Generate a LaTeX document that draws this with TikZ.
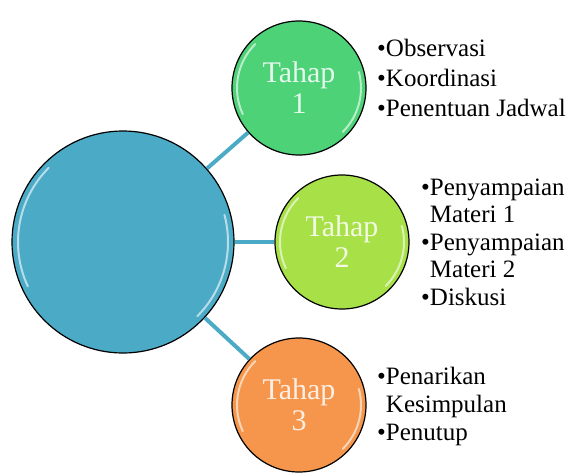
\documentclass[tikz,border=0pt]{standalone}
\usepackage{fontspec}
\setmainfont{Liberation Serif}
\usepackage{tikz}

\definecolor{HubBlue}{RGB}{75,170,198}
\definecolor{StageGreen}{RGB}{78,210,120}
\definecolor{StageLime}{RGB}{168,224,72}
\definecolor{StageOrange}{RGB}{245,150,76}

\begin{document}
\begin{tikzpicture}[x=1pt,y=1pt]
    \tikzset{Shine/.style = {%
        path picture={%
          \draw[white,opacity=.6,line width=2pt,line cap=round]
            (path picture bounding box.center) ++(135:#1) arc[start angle=135,end angle=205,radius=#1];
          \draw[white,opacity=.6,line width=2pt,line cap=round]
            (path picture bounding box.center) ++(-45:#1) arc[start angle=-45,end angle=15,radius=#1];}}}
    \tikzset{HubStyle/.style = {%
        shape= circle,
        fill= HubBlue,
        minimum size = 222pt,
        Shine=105pt,
        line width = 1.2pt,draw}}
    \tikzset{StageStyle/.style = {%
        shape= circle,
        fill= #1,
        text= white!85!#1,
        minimum size = 134pt,
        align= center,
        Shine=62pt,
        font= \fontsize{30}{31}\selectfont,
        line width = 1.2pt,draw}}
    \tikzset{ListStyle/.style = {%
        anchor= west,
        align= left,
        inner sep= 0pt,
        font= \fontsize{25}{#1}\selectfont}}
    \tikzset{LinkStyle/.style = {%
        draw= HubBlue,
        line width = 4pt}}
    \useasboundingbox (0,0) rectangle (576,-472);
    \node[HubStyle] (Hub) at (123,-242) {};
    \node[StageStyle=StageGreen] (T1) at (299,-88) {Tahap\\1};
    \node[StageStyle=StageLime] (T2) at (342,-242) {Tahap\\2};
    \node[StageStyle=StageOrange] (T3) at (299,-405) {Tahap\\3};
    \draw[LinkStyle] (Hub) -- (T1);
    \draw[LinkStyle] (Hub) -- (T2);
    \draw[LinkStyle] (Hub) -- (T3);
    \node[ListStyle=30] (L1) at (377,-78) {\textbullet Observasi\\\textbullet Koordinasi\\\textbullet Penentuan Jadwal};
    \node[ListStyle=27.5] (L2) at (421,-242) {\textbullet Penyampaian\\\phantom{\textbullet}Materi 1\\\textbullet Penyampaian\\\phantom{\textbullet}Materi 2\\\textbullet Diskusi};
    \node[ListStyle=28] (L3) at (377,-406) {\textbullet Penarikan\\\phantom{\textbullet}Kesimpulan\\\textbullet Penutup};
    %\draw[LinkStyle] (T1) -- (L1);
  \end{tikzpicture}
\end{document}
